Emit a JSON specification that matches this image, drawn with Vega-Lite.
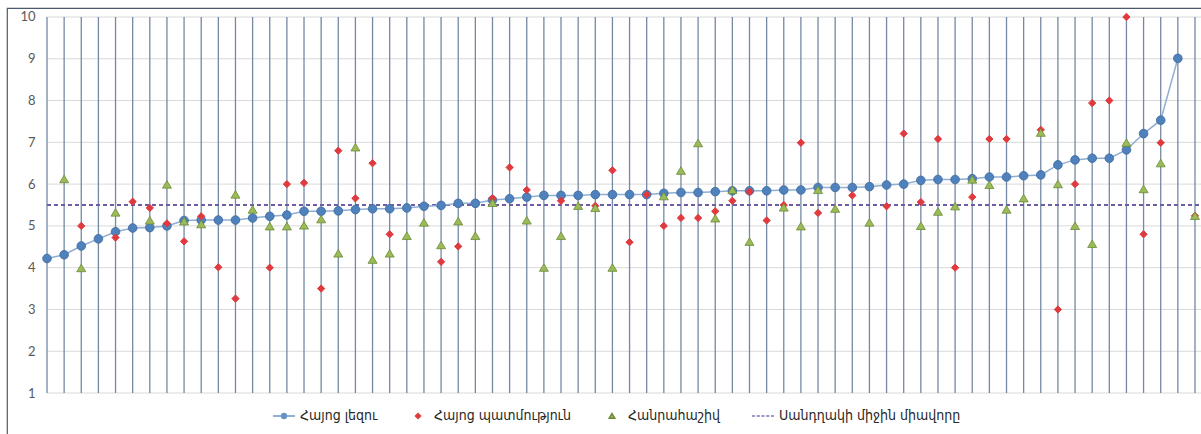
{
  "$schema": "https://vega.github.io/schema/vega-lite/v6.json",
  "width": 1210,
  "height": 440,
  "autosize": {"type": "none"},
  "padding": {"left": 7, "top": 8, "right": 0, "bottom": 0},
  "background": "white",
  "config": {"view": {"stroke": "#4b5a6e", "strokeWidth": 1.2}, "font": "Lato",
    "axisY": {"grid": false, "ticks": false, "domain": false, "offset": -28, "labelPadding": 0, "labelFont": "Lato", "labelFontSize": 13, "labelColor": "#595959", "title": null},
    "legend": {"orient": "none", "legendX": 265, "legendY": 396, "direction": "horizontal", "title": null, "symbolSize": 484, "symbolStrokeWidth": 1.5, "labelFont": "DejaVu Sans Condensed", "labelFontSize": 14, "labelColor": "#262626", "labelOffset": 4, "labelLimit": 400, "columnPadding": 28}
  },
  "data": {"values": [
    {"c": 0, "lang": 4.22, "hist": null, "alg": null},
    {"c": 1, "lang": 4.31, "hist": null, "alg": 6.12},
    {"c": 2, "lang": 4.52, "hist": 5.0, "alg": 3.99},
    {"c": 3, "lang": 4.69, "hist": null, "alg": null},
    {"c": 4, "lang": 4.86, "hist": 4.72, "alg": 5.32},
    {"c": 5, "lang": 4.95, "hist": 5.58, "alg": null},
    {"c": 6, "lang": 4.96, "hist": 5.43, "alg": 5.13},
    {"c": 7, "lang": 5.0, "hist": 5.06, "alg": 5.99},
    {"c": 8, "lang": 5.13, "hist": 4.63, "alg": 5.11},
    {"c": 9, "lang": 5.14, "hist": 5.23, "alg": 5.04},
    {"c": 10, "lang": 5.14, "hist": 4.01, "alg": null},
    {"c": 11, "lang": 5.14, "hist": 3.26, "alg": 5.75},
    {"c": 12, "lang": 5.19, "hist": null, "alg": 5.39},
    {"c": 13, "lang": 5.23, "hist": 4.0, "alg": 4.99},
    {"c": 14, "lang": 5.26, "hist": 6.0, "alg": 4.99},
    {"c": 15, "lang": 5.35, "hist": 6.03, "alg": 5.01},
    {"c": 16, "lang": 5.35, "hist": 3.5, "alg": 5.16},
    {"c": 17, "lang": 5.36, "hist": 6.8, "alg": 4.34},
    {"c": 18, "lang": 5.39, "hist": 5.66, "alg": 6.88},
    {"c": 19, "lang": 5.41, "hist": 6.5, "alg": 4.19},
    {"c": 20, "lang": 5.41, "hist": 4.8, "alg": 4.34},
    {"c": 21, "lang": 5.43, "hist": null, "alg": 4.76},
    {"c": 22, "lang": 5.47, "hist": null, "alg": 5.08},
    {"c": 23, "lang": 5.49, "hist": 4.14, "alg": 4.54},
    {"c": 24, "lang": 5.54, "hist": 4.51, "alg": 5.11},
    {"c": 25, "lang": 5.54, "hist": null, "alg": 4.76},
    {"c": 26, "lang": 5.62, "hist": 5.66, "alg": 5.55},
    {"c": 27, "lang": 5.65, "hist": 6.4, "alg": null},
    {"c": 28, "lang": 5.69, "hist": 5.86, "alg": 5.13},
    {"c": 29, "lang": 5.73, "hist": null, "alg": 4.0},
    {"c": 30, "lang": 5.73, "hist": 5.6, "alg": 4.76},
    {"c": 31, "lang": 5.73, "hist": null, "alg": 5.48},
    {"c": 32, "lang": 5.75, "hist": 5.48, "alg": 5.43},
    {"c": 33, "lang": 5.75, "hist": 6.33, "alg": 4.0},
    {"c": 34, "lang": 5.75, "hist": 4.61, "alg": null},
    {"c": 35, "lang": 5.75, "hist": 5.75, "alg": null},
    {"c": 36, "lang": 5.78, "hist": 5.0, "alg": 5.71},
    {"c": 37, "lang": 5.8, "hist": 5.19, "alg": 6.32},
    {"c": 38, "lang": 5.8, "hist": 5.19, "alg": 6.98},
    {"c": 39, "lang": 5.82, "hist": 5.35, "alg": 5.18},
    {"c": 40, "lang": 5.84, "hist": 5.6, "alg": 5.86},
    {"c": 41, "lang": 5.84, "hist": 5.82, "alg": 4.62},
    {"c": 42, "lang": 5.84, "hist": 5.13, "alg": null},
    {"c": 43, "lang": 5.86, "hist": 5.5, "alg": 5.44},
    {"c": 44, "lang": 5.86, "hist": 6.99, "alg": 4.99},
    {"c": 45, "lang": 5.92, "hist": 5.31, "alg": 5.86},
    {"c": 46, "lang": 5.92, "hist": null, "alg": 5.41},
    {"c": 47, "lang": 5.92, "hist": 5.73, "alg": null},
    {"c": 48, "lang": 5.94, "hist": null, "alg": 5.08},
    {"c": 49, "lang": 5.98, "hist": 5.47, "alg": null},
    {"c": 50, "lang": 6.0, "hist": 7.21, "alg": null},
    {"c": 51, "lang": 6.09, "hist": 5.57, "alg": 5.0},
    {"c": 52, "lang": 6.11, "hist": 7.08, "alg": 5.34},
    {"c": 53, "lang": 6.11, "hist": 4.0, "alg": 5.47},
    {"c": 54, "lang": 6.13, "hist": 5.69, "alg": 6.11},
    {"c": 55, "lang": 6.17, "hist": 7.08, "alg": 5.98},
    {"c": 56, "lang": 6.17, "hist": 7.08, "alg": 5.39},
    {"c": 57, "lang": 6.2, "hist": null, "alg": 5.66},
    {"c": 58, "lang": 6.22, "hist": 7.3, "alg": 7.23},
    {"c": 59, "lang": 6.46, "hist": 3.0, "alg": 6.0},
    {"c": 60, "lang": 6.58, "hist": 6.0, "alg": 5.0},
    {"c": 61, "lang": 6.62, "hist": 7.94, "alg": 4.57},
    {"c": 62, "lang": 6.62, "hist": 8.0, "alg": null},
    {"c": 63, "lang": 6.82, "hist": 10.0, "alg": 6.99},
    {"c": 64, "lang": 7.21, "hist": 4.8, "alg": 5.88},
    {"c": 65, "lang": 7.53, "hist": 6.99, "alg": 6.5},
    {"c": 66, "lang": 9.01, "hist": null, "alg": null},
    {"c": 67, "lang": null, "hist": 5.24, "alg": 5.24}
  ]},
  "layer": [
    {
      "data": {"values": [{"g": 1}, {"g": 2}, {"g": 3}, {"g": 4}, {"g": 5}, {"g": 6}, {"g": 7}, {"g": 8}, {"g": 9}, {"g": 10}]},
      "mark": {"type": "rule", "color": "#d9d9d9", "strokeWidth": 1},
      "encoding": {
        "y": {"field": "g", "type": "quantitative", "title": null,
              "scale": {"domain": [-0.3157, 10.2154], "nice": false, "zero": false},
              "axis": {"values": [1, 2, 3, 4, 5, 6, 7, 8, 9, 10]}},
        "x": {"datum": 0, "type": "quantitative", "scale": {"domain": [-2.3345, 68.285], "nice": false, "zero": false}, "axis": null},
        "x2": {"datum": 68.3}
      }
    },
    {
      "mark": {"type": "rule", "color": "#7489a4", "strokeWidth": 1.3},
      "encoding": {
        "x": {"field": "c", "type": "quantitative", "scale": {"domain": [-2.3345, 68.285], "nice": false, "zero": false}, "axis": null},
        "y": {"datum": 1, "type": "quantitative", "title": null, "scale": {"domain": [-0.3157, 10.2154], "nice": false, "zero": false}, "axis": {"values": [1, 2, 3, 4, 5, 6, 7, 8, 9, 10]}},
        "y2": {"datum": 10}
      }
    },
    {
      "mark": {"type": "rule", "color": "#6f5ea6", "strokeDash": [4, 3], "strokeWidth": 1.5},
      "encoding": {
        "y": {"datum": 5.5, "type": "quantitative", "title": null, "scale": {"domain": [-0.3157, 10.2154], "nice": false, "zero": false}, "axis": {"values": [1, 2, 3, 4, 5, 6, 7, 8, 9, 10]}},
        "x": {"datum": 0, "type": "quantitative", "scale": {"domain": [-2.3345, 68.285], "nice": false, "zero": false}, "axis": null},
        "x2": {"datum": 68.3}
      }
    },
    {
      "mark": {"type": "line", "color": "#8eaed4", "strokeWidth": 1.5},
      "encoding": {
        "x": {"field": "c", "type": "quantitative", "scale": {"domain": [-2.3345, 68.285], "nice": false, "zero": false}, "axis": null},
        "y": {"field": "lang", "type": "quantitative", "title": null, "scale": {"domain": [-0.3157, 10.2154], "nice": false, "zero": false}, "axis": {"values": [1, 2, 3, 4, 5, 6, 7, 8, 9, 10]}}
      }
    },
    {
      "mark": {"type": "point", "shape": "circle", "filled": true, "size": 75, "fill": "#4f81bd", "stroke": "#3a679c", "strokeWidth": 0.8, "opacity": 1},
      "encoding": {
        "x": {"field": "c", "type": "quantitative", "scale": {"domain": [-2.3345, 68.285], "nice": false, "zero": false}, "axis": null},
        "y": {"field": "lang", "type": "quantitative", "title": null, "scale": {"domain": [-0.3157, 10.2154], "nice": false, "zero": false}, "axis": {"values": [1, 2, 3, 4, 5, 6, 7, 8, 9, 10]}}
      }
    },
    {
      "mark": {"type": "point", "filled": true, "size": 1000, "strokeWidth": 1, "opacity": 1},
      "encoding": {
        "x": {"field": "c", "type": "quantitative", "scale": {"domain": [-2.3345, 68.285], "nice": false, "zero": false}, "axis": null},
        "y": {"field": "hist", "type": "quantitative", "title": null, "scale": {"domain": [-0.3157, 10.2154], "nice": false, "zero": false}, "axis": {"values": [1, 2, 3, 4, 5, 6, 7, 8, 9, 10]}},
        "fill": {"datum": "Հայոց պատմություն",
                 "scale": {"domain": ["Հայոց լեզու", "Հայոց պատմություն", "Հանրահաշիվ", "Սանդղակի միջին միավորը"], "range": ["#4f81bd", "#e0393e", "#9bbb59", "#8574b4"]}},
        "stroke": {"datum": "Հայոց պատմություն",
                 "scale": {"domain": ["Հայոց լեզու", "Հայոց պատմություն", "Հանրահաշիվ", "Սանդղակի միջին միավորը"], "range": ["#6f96c8", "#e0393e", "#6b8a35", "#8574b4"]}},
        "shape": {"datum": "Հայոց պատմություն",
                  "scale": {"domain": ["Հայոց լեզու", "Հայոց պատմություն", "Հանրահաշիվ", "Սանդղակի միջին միավորը"],
                            "range": ["M-1,0L1,0M-0.22,0A0.22,0.22,0,1,1,0.22,0A0.22,0.22,0,1,1,-0.22,0Z", "M0,-0.23L0.23,0L0,0.23L-0.23,0Z", "M0,-0.22L0.25,0.2L-0.25,0.2Z", "M-1,0H-0.72M-0.57,0H-0.29M-0.14,0H0.14M0.29,0H0.57M0.72,0H1"]}}
      }
    },
    {
      "mark": {"type": "point", "filled": true, "size": 1296, "strokeWidth": 0.8, "opacity": 1},
      "encoding": {
        "x": {"field": "c", "type": "quantitative", "scale": {"domain": [-2.3345, 68.285], "nice": false, "zero": false}, "axis": null},
        "y": {"field": "alg", "type": "quantitative", "title": null, "scale": {"domain": [-0.3157, 10.2154], "nice": false, "zero": false}, "axis": {"values": [1, 2, 3, 4, 5, 6, 7, 8, 9, 10]}},
        "fill": {"datum": "Հանրահաշիվ"},
        "stroke": {"datum": "Հանրահաշիվ"},
        "shape": {"datum": "Հանրահաշիվ"}
      }
    }
  ]
}
